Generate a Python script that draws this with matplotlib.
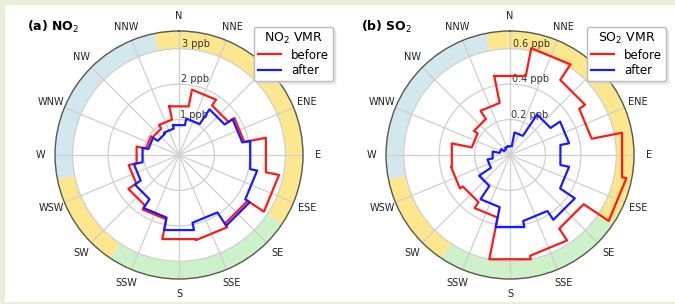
import numpy as np
import matplotlib
matplotlib.use("Agg")
import matplotlib.pyplot as plt
from matplotlib.patches import Rectangle
from matplotlib.lines import Line2D

# ---------------- data ----------------
directions = ['N', 'NNE', 'NE', 'ENE', 'E', 'ESE', 'SE', 'SSE',
              'S', 'SSW', 'SW', 'WSW', 'W', 'WNW', 'NW', 'NNW']
no2_before = [1.40, 1.88, 1.68, 1.88, 2.50, 2.88, 2.33, 2.45,
              2.42, 1.85, 1.72, 1.45, 1.22, 0.95, 0.90, 1.02]
no2_after = [0.86, 1.05, 1.55, 1.82, 2.05, 2.25, 2.40, 1.95,
             2.16, 1.80, 1.50, 1.30, 1.05, 0.88, 0.72, 0.76]
so2_before = [0.455, 0.615, 0.51, 0.47, 0.645, 0.67, 0.50, 0.58,
              0.60, 0.36, 0.32, 0.34, 0.335, 0.22, 0.245, 0.30]
so2_after = [0.05, 0.13, 0.275, 0.34, 0.29, 0.34, 0.44, 0.38,
             0.415, 0.30, 0.21, 0.13, 0.10, 0.06, 0.04, 0.05]

# outer ring sectors (start, end in degrees clockwise from N)
sector_start = [348.75, 123.75, 213.75, 258.75]
sector_end = [483.75, 213.75, 258.75, 348.75]
sector_colors = ['#fce78f', '#cdf1c8', '#fce78f', '#d3e7ef']

no2_ticks = [1, 2, 3]
no2_ticklabels = ['1 ppb', '2 ppb', '3 ppb']
so2_ticks = [0.2, 0.4, 0.6]
so2_ticklabels = ['0.2 ppb', '0.4 ppb', '0.6 ppb']

# ---------------- figure ----------------
fig = plt.figure(figsize=(6.75, 3.04), dpi=100, facecolor='#e7efd9')
fig.patches.append(Rectangle((5 / 675, 2 / 304), 1, 297 / 304,
                             transform=fig.transFigure, facecolor='white',
                             edgecolor='none', zorder=-10))

n = len(directions)
width_deg = 360.0 / n
centers = np.arange(n) * width_deg


def step_polygon(values):
    th, rr = [], []
    for c, v in zip(centers, values):
        th += [np.deg2rad(c - width_deg / 2), np.deg2rad(c + width_deg / 2)]
        rr += [v, v]
    th.append(th[0])
    rr.append(rr[0])
    return th, rr


def make_panel(rect, before, after, ticks, ticklabels, rmax):
    ax = fig.add_axes(rect, projection='polar')
    ax.set_theta_zero_location('N')
    ax.set_theta_direction(-1)
    ax.set_ylim(0, rmax)
    ring_in = ticks[-1]
    for s, e, col in zip(sector_start, sector_end, sector_colors):
        ax.bar(np.deg2rad((s + e) / 2), rmax - ring_in, width=np.deg2rad(e - s),
               bottom=ring_in, color=col, edgecolor='none', zorder=0.2)
    ax.set_xticks(np.deg2rad(centers))
    ax.set_xticklabels(directions, fontsize=7, color='#222222')
    ax.tick_params(axis='x', pad=0)
    ax.set_yticks(ticks)
    ax.set_yticklabels([])
    ax.grid(True, color='#cfcfcf', linewidth=0.9)
    ax.spines['polar'].set_color('#55584a')
    ax.spines['polar'].set_linewidth(1.0)
    for t, lab in zip(ticks, ticklabels):
        ax.text(np.deg2rad(1.5), t, lab, ha='left', va='bottom', fontsize=7,
                color='#333333', zorder=3)
    th, rr = step_polygon(before)
    ax.plot(th, rr, color='#ff1a1a', lw=1.6, zorder=4)
    th, rr = step_polygon(after)
    ax.plot(th, rr, color='#1a1aff', lw=1.6, zorder=5)
    handles = [Line2D([], [], color='#ff1a1a', lw=1.6),
               Line2D([], [], color='#1a1aff', lw=1.6)]
    return ax, handles


ax1, h1 = make_panel([0.0815, 0.0822, 0.3674, 0.8158], no2_before, no2_after,
                     no2_ticks, no2_ticklabels, 3.5)
ax2, h2 = make_panel([0.5719, 0.0822, 0.3674, 0.8158], so2_before, so2_after,
                     so2_ticks, so2_ticklabels, 0.7)

fig.text(27 / 675, 1 - 27 / 304, '(a) NO$_2$', fontsize=9, fontweight='bold',
         ha='left', va='center')
fig.text(361 / 675, 1 - 27 / 304, '(b) SO$_2$', fontsize=9, fontweight='bold',
         ha='left', va='center')

for h, gas, xr in [(h1, 'NO$_2$', 333 / 675), (h2, 'SO$_2$', 666 / 675)]:
    leg = fig.legend(h, ['before', 'after'], title=gas + ' VMR',
                     loc='upper right', bbox_to_anchor=(xr, 1 - 27 / 304),
                     bbox_transform=fig.transFigure, fontsize=8.5,
                     title_fontsize=9, frameon=True, fancybox=True,
                     framealpha=1, edgecolor='#bbbbbb', borderpad=0.35,
                     labelspacing=0.2, handlelength=2.0, handletextpad=0.8,
                     borderaxespad=0, shadow={'color': '0.85', 'ox': 2, 'oy': -2})
    leg.set_zorder(20)

fig.savefig('out.png', dpi=100, facecolor=fig.get_facecolor())
